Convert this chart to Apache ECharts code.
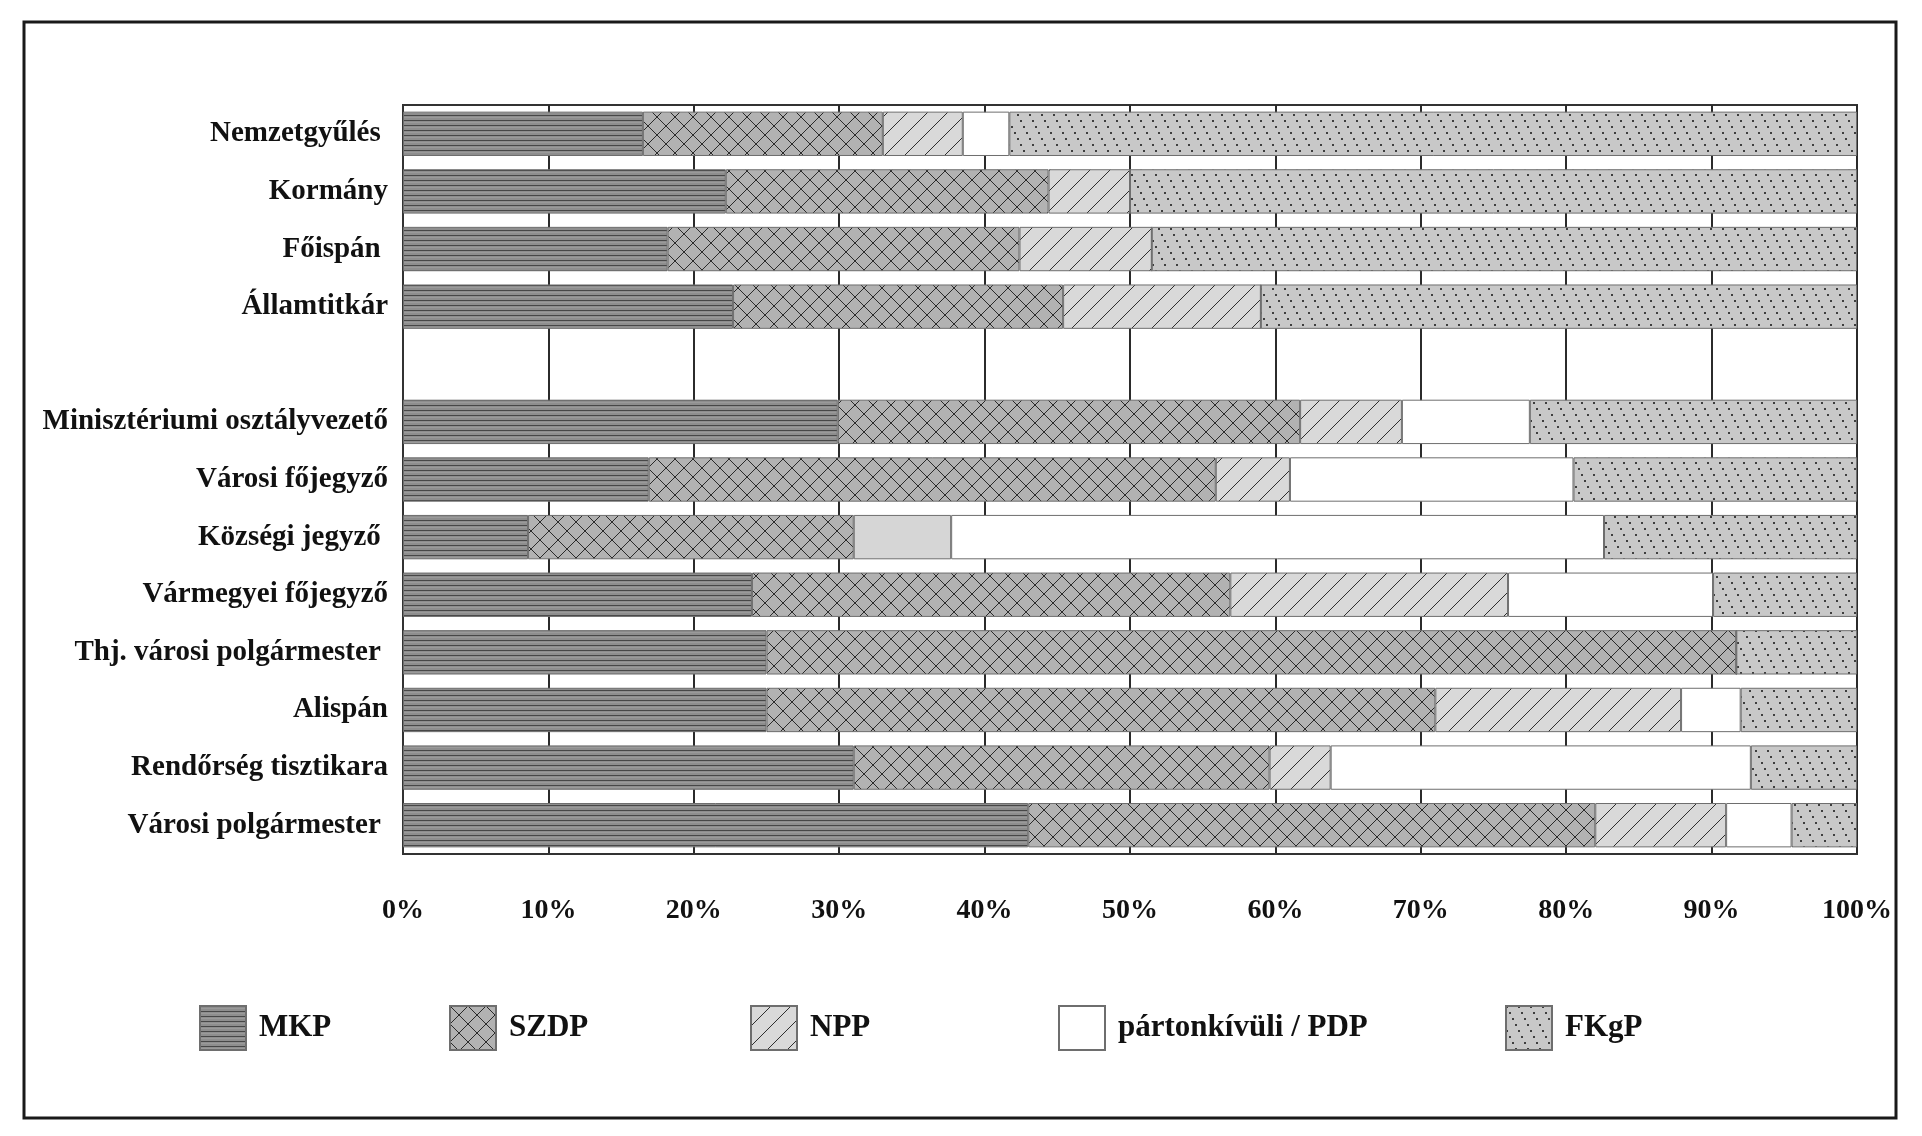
<!DOCTYPE html>
<html><head><meta charset="utf-8">
<script src="https://cdn.jsdelivr.net/npm/echarts@6/dist/echarts.min.js"></script>
<style>html,body{margin:0;padding:0;background:#fff}#c{width:1922px;height:1136px}</style>
</head><body><div id="c"></div>
<script>
// ---- data ----
const categories = ['Nemzetgyűlés ', 'Kormány', 'Főispán ', 'Államtitkár', '', 'Minisztériumi osztályvezető', 'Városi főjegyző', 'Községi jegyző ', 'Vármegyei főjegyző', 'Thj. városi polgármester ', 'Alispán', 'Rendőrség tisztikara', 'Városi polgármester '];
const seriesNames = ['MKP', 'SZDP', 'NPP', 'pártonkívüli / PDP', 'FKgP'];
const MKP  = [16.5, 22.2, 18.2, 22.7, null, 29.9, 16.9,  8.6, 24.0, 25.0, 25.0, 31.0, 43.0];
const SZDP = [16.5, 22.2, 24.2, 22.7, null, 31.8, 39.0, 22.4, 32.9, 66.7, 46.0, 28.6, 39.0];
const NPP  = [ 5.5,  5.6,  9.1, 13.6, null,  7.0,  5.1,  6.7, 19.1,  0,   16.9,  4.2,  9.0];
const PDP  = [ 3.2,  0,    0,    0,   null,  8.8, 19.5, 44.9, 14.1,  0,    4.1, 28.9,  4.5];
const FKgP = [58.3, 50.0, 48.5, 41.0, null, 22.5, 19.5, 17.4,  9.9,  8.3,  8.0,  7.3,  4.5];
const NPP_PLAIN_INDEX = 7; // Községi jegyző: NPP segment drawn plain in the source
const xMin = 0, xMax = 100, xStep = 10;

// ---- patterns ----
function makePattern(w, h, draw) {
  const c = document.createElement('canvas');
  c.width = w; c.height = h;
  const g = c.getContext('2d');
  draw(g, w, h);
  return { image: c, repeat: 'repeat' };
}
const pMKP = makePattern(8, 5, (g, w, h) => {
  g.fillStyle = '#8e8e8e'; g.fillRect(0, 0, w, h);
  g.fillStyle = '#474747'; g.fillRect(0, 0, w, 1);
  g.fillStyle = '#9a9a9a'; g.fillRect(0, 2, w, 1);
});
const pSZDP = makePattern(18, 18, (g, w, h) => {
  g.fillStyle = '#b2b2b2'; g.fillRect(0, 0, w, h);
  g.strokeStyle = '#2a2a2a'; g.lineWidth = 1;
  g.beginPath();
  g.moveTo(-2, -2); g.lineTo(w + 2, h + 2);
  g.moveTo(w + 2, -2); g.lineTo(-2, h + 2);
  g.stroke();
});
const pNPP = makePattern(20, 20, (g, w, h) => {
  g.fillStyle = '#d9d9d9'; g.fillRect(0, 0, w, h);
  g.strokeStyle = '#2e2e2e'; g.lineWidth = 1;
  g.beginPath();
  g.moveTo(-2, h + 2); g.lineTo(w + 2, -2);
  g.moveTo(-2, 2); g.lineTo(2, -2);
  g.moveTo(w - 2, h + 2); g.lineTo(w + 2, h - 2);
  g.stroke();
});
const pFKgP = makePattern(12, 24, (g, w, h) => {
  g.fillStyle = '#c8c8c8'; g.fillRect(0, 0, w, h);
  g.fillStyle = '#3e3e3e';
  [[0, 0], [3, 6], [6, 12], [9, 18]].forEach(p => g.fillRect(p[0], p[1], 2, 2));
});
const fills = [pMKP, pSZDP, pNPP, '#ffffff', pFKgP];
const values = [MKP, SZDP, NPP, PDP, FKgP];

const font = 'Liberation Serif';
const textColor = '#111';
const series = seriesNames.map((name, i) => ({
  name: name,
  type: 'bar',
  stack: 'total',
  barCategoryGap: '23%',
  itemStyle: { color: fills[i], borderColor: '#6e6e6e', borderWidth: 1 },
  data: values[i].map((v, j) => (i === 2 && j === NPP_PLAIN_INDEX)
    ? { value: v, itemStyle: { color: '#d6d6d6' } } : v)
}));

const legendLeft = [199, 449, 750, 1058, 1505];
const legends = seriesNames.map((name, i) => ({
  data: [name],
  left: legendLeft[i],
  top: 1005,
  padding: 0,
  itemWidth: 46,
  itemHeight: 44,
  icon: 'rect',
  selectedMode: false,
  textStyle: { fontFamily: font, fontWeight: 'bold', fontSize: 31, color: textColor, padding: [4, 0, 0, 8] }
}));

const chart = echarts.init(document.getElementById('c'), null, { renderer: 'canvas' });
chart.setOption({
  animation: false,
  backgroundColor: '#fff',
  grid: { left: 403, right: 65, top: 105, bottom: 282, show: true, borderColor: '#333', borderWidth: 2, backgroundColor: 'transparent' },
  legend: legends,
  xAxis: {
    type: 'value', min: xMin, max: xMax, interval: xStep,
    axisLine: { show: true, lineStyle: { color: '#333', width: 2 } },
    axisTick: { show: false },
    splitLine: { show: true, lineStyle: { color: '#2b2b2b', width: 2 } },
    axisLabel: { formatter: '{value}%', margin: 43, fontFamily: font, fontWeight: 'bold', fontSize: 28, color: textColor }
  },
  yAxis: {
    type: 'category', data: categories, inverse: true,
    axisLine: { show: true, lineStyle: { color: '#333', width: 2 } },
    axisTick: { show: false },
    splitLine: { show: false },
    axisLabel: { margin: 15, fontFamily: font, fontWeight: 'bold', fontSize: 29, color: textColor }
  },
  graphic: [{
    type: 'rect', silent: true,
    shape: { x: 24, y: 22, width: 1872, height: 1096 },
    style: { fill: 'none', stroke: '#1a1a1a', lineWidth: 3 }
  }],
  series: series
});
</script>
</body></html>
